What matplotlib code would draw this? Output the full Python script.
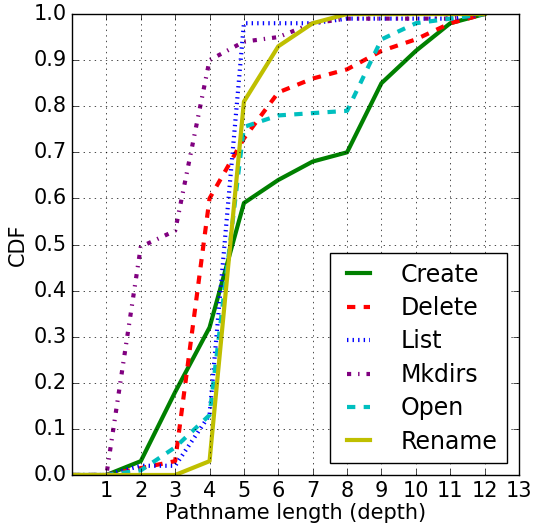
import matplotlib
matplotlib.use("Agg")
import matplotlib.pyplot as plt

plt.style.use('classic')

depth = [0, 1, 2, 3, 4, 5, 6, 7, 8, 9, 10, 11, 12]
create = [0, 0, 0.03, 0.18, 0.32, 0.59, 0.64, 0.68, 0.70, 0.85, 0.92, 0.98, 1.0]
delete = [0, 0, 0.015, 0.03, 0.60, 0.73, 0.83, 0.86, 0.88, 0.92, 0.945, 0.98, 1.0]
list_ = [0, 0, 0.02, 0.02, 0.13, 0.98, 0.98, 0.98, 0.99, 0.99, 0.99, 0.99, 1.0]
mkdirs = [0, 0, 0.495, 0.53, 0.90, 0.94, 0.95, 0.98, 0.99, 0.99, 0.99, 0.99, 1.0]
open_ = [0, 0, 0.01, 0.06, 0.13, 0.755, 0.78, 0.785, 0.79, 0.945, 0.98, 0.99, 1.0]
rename = [0, 0, 0, 0, 0.03, 0.81, 0.93, 0.98, 1.0, 1.0, 1.0, 1.0, 1.0]

fig = plt.figure(figsize=(5.35, 5.27), dpi=100, facecolor='w')
ax = fig.add_axes([0.1346, 0.0987, 0.8355, 0.8747])

ax.plot(depth, create, 'g-', lw=3, label='Create')
ax.plot(depth, delete, 'r--', lw=3, label='Delete')
ax.plot(depth, list_, 'b:', lw=3, label='List')
ax.plot(depth, mkdirs, '-.', color='purple', lw=3, label='Mkdirs')
ax.plot(depth, open_, 'c--', lw=3, label='Open')
ax.plot(depth, rename, 'y-', lw=3, label='Rename')

ax.set_xlim(0, 13)
ax.set_ylim(0, 1)
ax.set_xticks(range(1, 14))
ax.set_yticks([i / 10 for i in range(11)])
ax.tick_params(labelsize=15)
ax.grid(True)
ax.set_xlabel('Pathname length (depth)', fontsize=15, labelpad=2)
ax.set_ylabel('CDF', fontsize=15, labelpad=4)
ax.legend(loc='lower right', fontsize=17, handlelength=1.6, handletextpad=1.0,
          labelspacing=0.4)

fig.savefig('out.png', dpi=100, facecolor='w')
